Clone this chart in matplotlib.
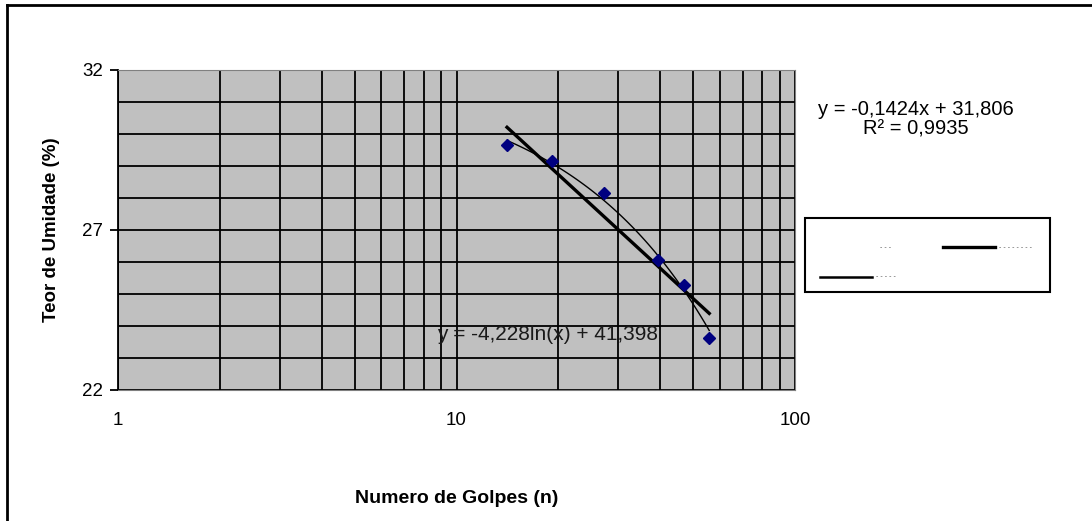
import numpy as np
import matplotlib
matplotlib.use("Agg")
import matplotlib.pyplot as plt
from matplotlib.lines import Line2D
from matplotlib.patches import Rectangle
from matplotlib.ticker import FixedLocator, NullFormatter

plt.rcParams["font.family"] = ["Liberation Sans", "DejaVu Sans"]

# dados do ensaio (limite de liquidez)
golpes = [14.1, 19.1, 27.2, 39.3, 47.0, 55.8]
umidade = [29.66, 29.17, 28.15, 26.06, 25.28, 23.62]

# linhas de tendencia
a_lin, b_lin = -0.1424, 31.806
a_log, b_log = -4.228, 41.398
eq_lin = "y = -0,1424x + 31,806\nR² = 0,9935"
eq_log = "y = -4,228ln(x) + 41,398"

W, H = 1092, 521
def fx(px):
    return px / W
def fy(py):
    return 1 - py / H

fig = plt.figure(figsize=(10.92, 5.21), dpi=100)
ax = fig.add_axes([fx(118), fy(390), (795 - 118) / W, 320 / H])
ax.set_facecolor("#c0c0c0")

ax.set_xscale("log")
ax.set_xlim(1, 100)
ax.set_ylim(22, 32)

xs = np.linspace(min(golpes), max(golpes), 100)
ax.plot(xs, a_lin * xs + b_lin, color="black", lw=1.0, zorder=3)
ax.plot(xs, a_log * np.log(xs) + b_log, color="black", lw=2.4, zorder=3)
ax.plot(golpes, umidade, linestyle="none", marker="D", markersize=6,
        color="#000080", zorder=4)

# grade
ax.xaxis.set_major_locator(FixedLocator([1, 10, 100]))
ax.xaxis.set_minor_locator(FixedLocator([2, 3, 4, 5, 6, 7, 8, 9, 20, 30, 40, 50, 60, 70, 80, 90]))
ax.xaxis.set_minor_formatter(NullFormatter())
ax.set_xticklabels(["1", "10", "100"])
ax.set_yticks([22, 27, 32])
ax.yaxis.set_minor_locator(FixedLocator(range(22, 33)))
ax.grid(True, which="both", color="black", lw=1.3, zorder=1)
ax.set_axisbelow(True)
ax.tick_params(axis="x", which="both", length=0, pad=16, labelsize=13.5)
ax.tick_params(axis="y", which="major", length=6, width=1.3, pad=5, labelsize=13.5)
ax.tick_params(axis="y", which="minor", length=0)

for s in ["top", "right", "bottom"]:
    ax.spines[s].set_color("#808080")
ax.spines["left"].set_color("black")
ax.spines["left"].set_linewidth(1.3)

ax.set_ylabel("Teor de Umidade (%)", fontsize=13.5, fontweight="bold", labelpad=16)
ax.set_xlabel("Numero de Golpes (n)", fontsize=14, fontweight="bold", labelpad=44)

fig.text(fx(916), fy(119), eq_lin, ha="center", va="center",
         fontsize=14.5, linespacing=1.05)
fig.text(fx(437), fy(334), eq_log, ha="left", va="center",
         fontsize=15, color="#1a1a1a", zorder=5)

# legenda (desenhada a mao, como no excel)
fig.add_artist(Rectangle((fx(805), fy(292)), (1050 - 805) / W, 74 / H,
                         facecolor="white", edgecolor="black", lw=1.5))
fig.text(fx(880), fy(247), "- - -", fontsize=5, color="#555555", va="center")
fig.add_artist(Line2D([fx(943), fx(995)], [fy(247), fy(247)], color="black", lw=2.4))
fig.text(fx(999), fy(247), "- - - - - - - -", fontsize=5, color="#555555", va="center")
fig.add_artist(Line2D([fx(820), fx(872)], [fy(277), fy(277)], color="black", lw=1.8))
fig.text(fx(876), fy(277), "- - - - -", fontsize=5, color="#555555", va="center")

# moldura
fig.add_artist(Line2D([fx(7), fx(7)], [0, fy(5)], color="black", lw=2))
fig.add_artist(Line2D([fx(7), 1], [fy(5), fy(5)], color="black", lw=2))

fig.savefig("out.png", dpi=100)
